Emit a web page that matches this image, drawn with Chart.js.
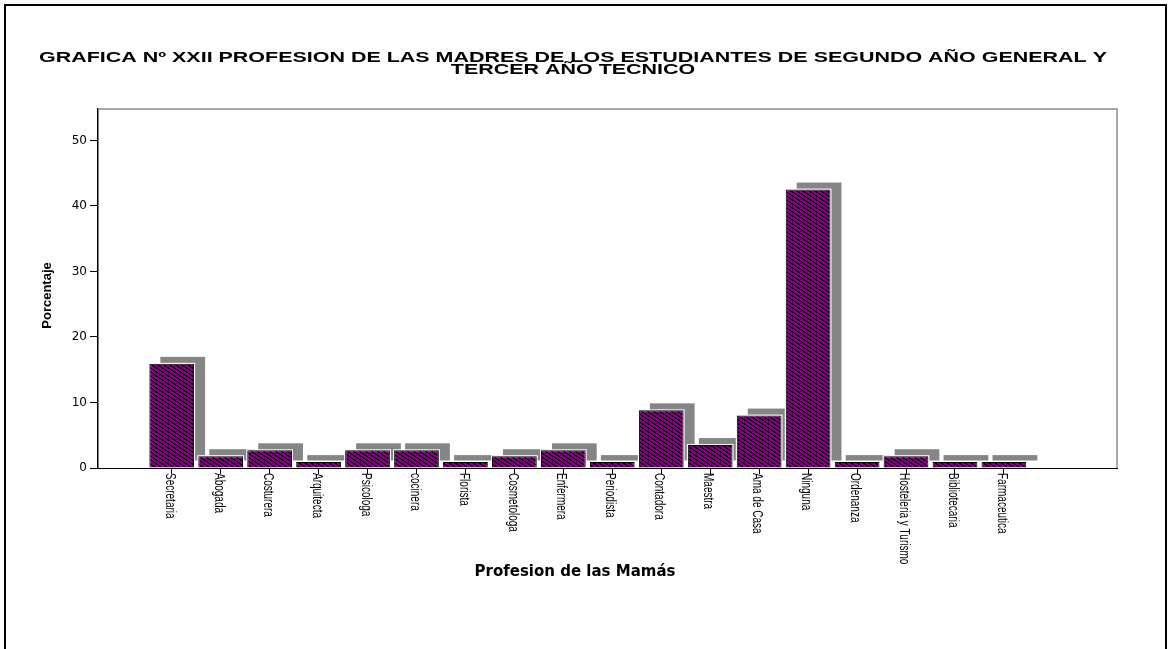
<!DOCTYPE html>
<html>
<head>
<meta charset="utf-8">
<script src="https://cdn.jsdelivr.net/npm/chart.js@4.4.2/dist/chart.umd.min.js"></script>
<style>
  html, body { margin: 0; padding: 0; background: #fff; }
  #wrap { position: relative; width: 1170px; height: 649px; overflow: hidden; }
  #frame { position: absolute; left: 4px; top: 4px; right: 3px; bottom: -10px; border: 2px solid #000; pointer-events: none; }
</style>
</head>
<body>
<div id="wrap">
  <canvas id="chart" width="1170" height="649"></canvas>
  <div id="frame"></div>
</div>
<script>
const TITLE = [
  'GRAFICA Nº XXII PROFESION DE LAS MADRES DE LOS ESTUDIANTES DE SEGUNDO AÑO GENERAL Y',
  'TERCER AÑO TECNICO'
];
const X_TITLE = 'Profesion de las Mamás';
const Y_TITLE = 'Porcentaje';

const categories = [
  'Secretaria', 'Abogada', 'Costurera', 'Arquitecta', 'Psicologa', 'cocinera',
  'Florista', 'Cosmetologa', 'Enfermera', 'Periodista', 'Contadora', 'Maestra',
  'Ama de Casa', 'Ninguna', 'Ordenanza', 'Hosteleria y Turismo', 'Bibliotecaria', 'Farmaceutica'
];
const percentages = [
  15.9, 1.8, 2.7, 0.9, 2.7, 2.7,
  0.9, 1.8, 2.7, 0.9, 8.8, 3.5,
  8.0, 42.5, 0.9, 1.8, 0.9, 0.9
];
const yTicks = [0, 10, 20, 30, 40, 50];

const PURPLE = '#800080';
const SHADOW = '#858585';
// the SPSS export is stretched sideways, so the texts get a horizontal scale
const TEXT_STRETCH = 1.4;
const TITLE_WIDTH = 1068;

// purple fill with black diagonal hatching
const makeHatch = () => {
  const c = document.createElement('canvas');
  c.width = 6;
  c.height = 4;
  const g = c.getContext('2d');
  g.fillStyle = PURPLE;
  g.fillRect(0, 0, 6, 4);
  g.fillStyle = '#000';
  for (let y = 0; y < 4; y++) {
    for (let x = 0; x < 6; x++) {
      const d = ((2 * x - 3 * y) % 12 + 12) % 12;
      if (d < 4) g.fillRect(x, y, 1, 1);
    }
  }
  return g.createPattern(c, 'repeat');
};

const sppsPlugin = {
  id: 'spss',
  beforeDatasetsDraw(chart) {
    const { ctx, chartArea } = chart;
    ctx.save();
    // grey top/right of the plot frame
    ctx.strokeStyle = '#8c8c8c';
    ctx.lineWidth = 1.5;
    ctx.beginPath();
    ctx.moveTo(chartArea.left, chartArea.top);
    ctx.lineTo(chartArea.right, chartArea.top);
    ctx.lineTo(chartArea.right, chartArea.bottom);
    ctx.stroke();
    const bars = chart.getDatasetMeta(0).data;
    ctx.fillStyle = SHADOW;
    bars.forEach(bar => {
      const { x, y, base, width } = bar.getProps(['x', 'y', 'base', 'width'], true);
      ctx.fillRect(x - width / 2 + 11, y - 7, width, base - y);
    });
    ctx.fillStyle = '#fff';
    bars.forEach(bar => {
      const { x, y, base, width } = bar.getProps(['x', 'y', 'base', 'width'], true);
      ctx.fillRect(x - width / 2 - 1, y - 1, width + 2, base - y + 1);
    });
    ctx.restore();
  },
  afterDraw(chart) {
    const { ctx, chartArea, scales: { x } } = chart;
    ctx.save();
    ctx.fillStyle = '#000';
    ctx.textBaseline = 'middle';

    // title
    ctx.font = "bold 15px 'Liberation Sans', Arial, sans-serif";
    ctx.textAlign = 'center';
    const sx = TITLE_WIDTH / ctx.measureText(TITLE[0]).width;
    TITLE.forEach((line, i) => {
      ctx.save();
      ctx.translate(573, 58 + i * 12.2);
      ctx.scale(sx, 1);
      ctx.fillText(line, 0, 0);
      ctx.restore();
    });

    // category labels, turned clockwise
    ctx.font = "10px 'Liberation Sans', Arial, sans-serif";
    ctx.textAlign = 'left';
    categories.forEach((label, i) => {
      ctx.save();
      ctx.translate(x.getPixelForValue(i) - 2, x.top + 5);
      ctx.scale(TEXT_STRETCH, 1);
      ctx.rotate(Math.PI / 2);
      ctx.fillText(label, 0, 0);
      ctx.restore();
    });

    // axis titles
    ctx.textAlign = 'center';
    ctx.font = "bold 15px 'DejaVu Sans', sans-serif";
    ctx.fillText(X_TITLE, 575, 572);

    ctx.font = "bold 13px 'Liberation Sans', Arial, sans-serif";
    ctx.save();
    ctx.translate(47.5, (chartArea.top + chartArea.bottom) / 2 + 7);
    ctx.rotate(-Math.PI / 2);
    ctx.fillText(Y_TITLE, 0, 0);
    ctx.restore();

    ctx.restore();
  }
};

const chart = new Chart(document.getElementById('chart'), {
  type: 'bar',
  data: {
    datasets: [{
      data: categories.map((c, i) => ({ x: i, y: percentages[i] })),
      backgroundColor: makeHatch(),
      borderColor: '#000',
      borderWidth: 1,
      barPercentage: 0.914,
      categoryPercentage: 1.0
    }]
  },
  options: {
    responsive: false,
    animation: false,
    events: [],
    layout: {
      padding: { left: 29, right: 53, top: 109, bottom: 81 }
    },
    plugins: {
      legend: { display: false },
      tooltip: { enabled: false },
      title: { display: false }
    },
    scales: {
      x: {
        type: 'linear',
        offset: false,
        min: -1.506,
        max: 19.31,
        afterBuildTicks: s => { s.ticks = categories.map((c, i) => ({ value: i })); },
        afterFit: s => { s.height = 100; },
        grid: { display: true, offset: false, drawOnChartArea: false, drawTicks: true, tickLength: 6, color: '#000' },
        border: { display: true, color: '#000', width: 1 },
        ticks: { display: false }
      },
      y: {
        min: 0,
        max: 54.8,
        afterBuildTicks: s => { s.ticks = yTicks.map(v => ({ value: v })); },
        afterFit: s => { s.width = 69; },
        grid: { display: true, drawOnChartArea: false, drawTicks: true, tickLength: 8, color: '#000' },
        border: { display: true, color: '#000', width: 1.5 },
        ticks: { color: '#000', padding: 3, font: { family: 'DejaVu Sans', size: 12 } }
      }
    }
  },
  plugins: [sppsPlugin]
});
</script>
</body>
</html>
